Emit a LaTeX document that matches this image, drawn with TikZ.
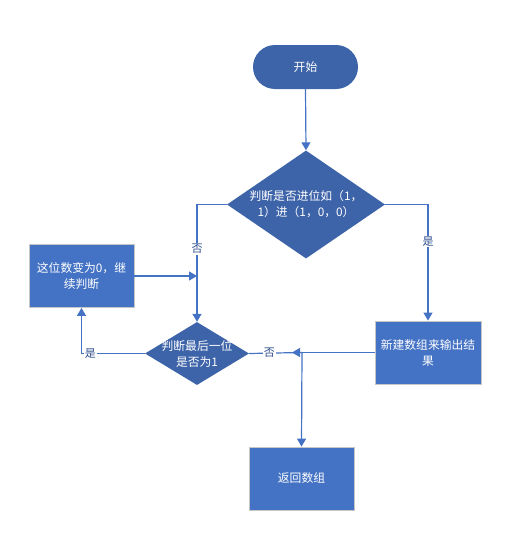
\documentclass[tikz,border=0pt]{standalone}
\usepackage{fontspec}
\newfontfamily\cjk{Noto Sans CJK SC}
\usetikzlibrary{shapes.geometric,arrows.meta}
\definecolor{rectblue}{HTML}{4472C4}
\definecolor{darkblue}{HTML}{3D63A8}
\definecolor{lineblue}{HTML}{4472C4}
\definecolor{labelblue}{HTML}{2F4F8F}
\begin{document}
\begin{tikzpicture}[x=1pt,y=-1pt,
  font=\cjk\fontsize{11.8}{16}\selectfont,
  procbox/.style={draw=gray!45, line width=0.8pt, fill=rectblue, text=white,
    minimum width=105pt, minimum height=63pt, inner sep=0pt, align=center},
  decision/.style={diamond, fill=darkblue, inner sep=0pt},
  dtext/.style={text=white, align=center},
  terminal/.style={fill=darkblue, rounded corners=22pt, text=white,
    minimum width=105pt, minimum height=44pt, inner sep=0pt},
  conn/.style={draw=lineblue, line width=1.2pt, -{Triangle[length=8pt,width=9pt]}},
  plainline/.style={draw=lineblue, line width=1.2pt},
  lab/.style={fill=white, text=labelblue, inner sep=1pt, font=\cjk\fontsize{11}{12}\selectfont}
]
\useasboundingbox (0,0) rectangle (514,541);

\node[terminal] (start) at (305.5,67) {开始};
\node[decision, minimum width=158pt, minimum height=108pt,
  label={[dtext]center:判断是否进位如（1，\\1）进（1，0，0）}] (d1) at (306,204.5) {};
\node[procbox] (box1) at (81.5,276) {这位数变为0，继\\续判断};
\node[decision, minimum width=104pt, minimum height=63pt,
  label={[dtext]center:判断最后一位\\是否为1}] (d2) at (197,353.5) {};
\node[procbox, minimum width=106pt] (newbox) at (428,352.5) {新建数组来输出结\\果};
\node[procbox] (ret) at (301.5,478.5) {返回数组};
\coordinate (jt) at (302,352.5);
\coordinate (jtip) at (292,352.5);

\draw[conn] (start.south) -- (d1.north);
\draw[conn] (d1.west) -| node[lab, pos=0.69] {否} (d2.north);
\draw[conn] (box1.east) -- (box1.east -| d2.north);
\draw[conn] (d1.east) -| node[lab, pos=0.66] {是} (newbox.north);
\draw[conn] (d2.west) -| node[lab, pos=0.43] {是} (box1.south);
\draw[conn] (newbox.west) -- (jtip);
\draw[plainline] (d2.east) -- node[lab, pos=0.38] {否} (jt);
\draw[conn] (jt) -- (ret.north);
\end{tikzpicture}
\end{document}
